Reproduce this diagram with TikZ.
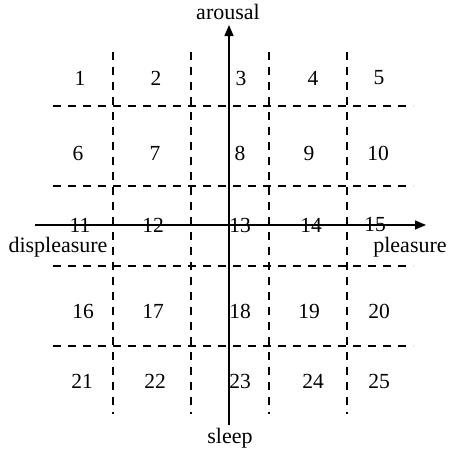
\documentclass[tikz,border=0pt]{standalone}
\usepackage{fontspec}
\setmainfont{Liberation Serif}
\usetikzlibrary{arrows.meta}
\begin{document}
\begin{tikzpicture}[x=1pt,y=-1pt,
  grid/.style={line width=1.2pt,dash pattern=on 8pt off 7pt},
  axis/.style={line width=1.3pt,-{Triangle[length=11pt,width=9pt]}},
  lbl/.style={inner sep=0pt,font=\fontsize{22}{25}\selectfont},
  num/.style={inner sep=0pt,font=\fontsize{21.5}{24}\selectfont}]
\useasboundingbox (0,0) rectangle (448,450);
% grid coordinates
\coordinate (h1a) at (53,106); \coordinate (h1b) at (413,106);
\coordinate (h2a) at (53,186); \coordinate (h2b) at (413,186);
\coordinate (h3a) at (53,266); \coordinate (h3b) at (413,266);
\coordinate (h4a) at (53,346); \coordinate (h4b) at (413,346);
\coordinate (v1a) at (113,52); \coordinate (v1b) at (113,414);
\coordinate (v2a) at (191,52); \coordinate (v2b) at (191,414);
\coordinate (v3a) at (269,52); \coordinate (v3b) at (269,414);
\coordinate (v4a) at (347,52); \coordinate (v4b) at (347,414);
\draw[grid] (h1a) -- (h1b); \draw[grid] (h2a) -- (h2b);
\draw[grid] (h3a) -- (h3b); \draw[grid] (h4a) -- (h4b);
\draw[grid] (v1a) -- (v1b); \draw[grid] (v2a) -- (v2b);
\draw[grid] (v3a) -- (v3b); \draw[grid] (v4a) -- (v4b);
% axes
\coordinate (xs) at (35,225); \coordinate (xe) at (426,225);
\coordinate (ys) at (229,425); \coordinate (ye) at (229,25);
\draw[axis] (xs) -- (xe);
\draw[axis] (ys) -- (ye);
% axis labels
\node[lbl] (arousal) at (228,12) {arousal};
\node[lbl] (sleep) at (230,438) {sleep};
\node[lbl] (displeasure) at (58,247) {displeasure};
\node[lbl] (pleasure) at (410,247) {pleasure};
% numbers
\node[num] (n1) at (80,78) {1};
\node[num] (n2) at (156,78) {2};
\node[num] (n3) at (241,78) {3};
\node[num] (n4) at (313,78) {4};
\node[num] (n5) at (379,78) {5};
\node[num] (n6) at (78,153) {6};
\node[num] (n7) at (155,153) {7};
\node[num] (n8) at (240,153) {8};
\node[num] (n9) at (309,153) {9};
\node[num] (n10) at (378,153) {10};
\node[num] (n11) at (80,225) {11};
\node[num] (n12) at (153,225) {12};
\node[num] (n13) at (240,225) {13};
\node[num] (n14) at (311,225) {14};
\node[num] (n15) at (375,225) {15};
\node[num] (n16) at (83,311) {16};
\node[num] (n17) at (153,311) {17};
\node[num] (n18) at (240,311) {18};
\node[num] (n19) at (309,311) {19};
\node[num] (n20) at (379,311) {20};
\node[num] (n21) at (82,381) {21};
\node[num] (n22) at (155,381) {22};
\node[num] (n23) at (240,381) {23};
\node[num] (n24) at (313,381) {24};
\node[num] (n25) at (379,381) {25};
\end{tikzpicture}
\end{document}
